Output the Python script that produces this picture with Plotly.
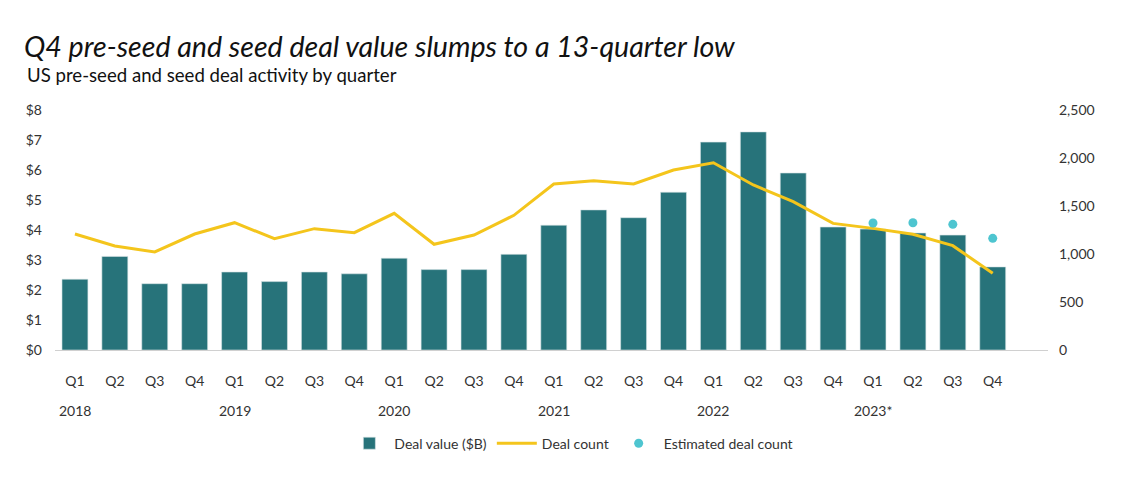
import plotly.graph_objects as go

years = ["2018", "2019", "2020", "2021", "2022", "2023*"]
quarters = ["Q1", "Q2", "Q3", "Q4"]
categories = [f"{y} {q}" for y in years for q in quarters]
tick_labels = [q for y in years for q in quarters]

deal_value = [2.36, 3.12, 2.21, 2.21, 2.60, 2.28, 2.60, 2.54,
              3.06, 2.68, 2.68, 3.19, 4.16, 4.67, 4.41, 5.26,
              6.93, 7.27, 5.90, 4.10, 4.03, 3.90, 3.83, 2.77]
deal_count = [1208, 1083, 1021, 1208, 1326, 1160, 1264, 1222,
              1424, 1101, 1198, 1403, 1729, 1764, 1729, 1875,
              1951, 1719, 1545, 1319, 1267, 1205, 1087, 799]
est_categories = categories[20:]
est_count = [1323, 1326, 1309, 1163]

font_family = "Lato, 'Open Sans', sans-serif"
txt = "#333333"

fig = go.Figure()
fig.add_trace(go.Bar(x=categories, y=deal_value, name="Deal value ($B)",
                     marker=dict(color="#27737a", line=dict(color="#d9e4e5", width=0.6)),
                     yaxis="y"))
fig.add_trace(go.Scatter(x=categories, y=deal_count, name="Deal count", mode="lines",
                         line=dict(color="#f4c51c", width=3), yaxis="y2"))
fig.add_trace(go.Scatter(x=est_categories, y=est_count, name="Estimated deal count",
                         mode="markers", marker=dict(color="#4ec5d0", size=9),
                         yaxis="y2"))

annotations = []
for y in years:
    annotations.append(dict(x=f"{y} Q1", y=-0.25, xref="x", yref="paper",
                            text=y, showarrow=False, xanchor="center", yanchor="middle",
                            font=dict(size=14, color=txt, family=font_family)))
annotations.append(dict(x=-0.0302, y=1.145, xref="paper", yref="paper",
                        text="US pre-seed and seed deal activity by quarter",
                        showarrow=False, xanchor="left", yanchor="middle",
                        font=dict(size=18.6, color="#111111", family=font_family)))

fig.update_layout(
    width=1122, height=490,
    paper_bgcolor="white", plot_bgcolor="white",
    margin=dict(l=55, r=74, t=110, b=140),
    font=dict(family=font_family, size=14, color=txt),
    title=dict(text="<i>Q4 pre-seed and seed deal value slumps to a 13-quarter low</i>",
               x=24 / 1122, xref="container", xanchor="left",
               y=1 - 47 / 490, yref="container", yanchor="middle",
               font=dict(size=28.6, color="#111111", family=font_family)),
    bargap=0.35,
    xaxis=dict(type="category", tickvals=categories, ticktext=tick_labels,
               showgrid=False, showline=True, linecolor="#d0d0d0", linewidth=1,
               ticks="", tickfont=dict(size=14, color=txt), ticklabelstandoff=18),
    yaxis=dict(range=[0, 8], dtick=1, tickprefix="$", showgrid=False, zeroline=False,
               ticks="", tickfont=dict(size=14, color=txt), ticklabelstandoff=12),
    yaxis2=dict(range=[0, 2500], dtick=500, overlaying="y", side="right",
                showgrid=False, zeroline=False, ticks="", separatethousands=True,
                tickformat=",d", tickfont=dict(size=14, color=txt), ticklabelstandoff=10),
    legend=dict(orientation="h", x=0.52, xanchor="center", y=-0.39, yanchor="middle",
                font=dict(size=14, color=txt, family=font_family), itemwidth=40),
    annotations=annotations,
    showlegend=True,
)

fig.write_html("out.html", config={"displayModeBar": False},
               post_script="document.body.style.margin='0';")
